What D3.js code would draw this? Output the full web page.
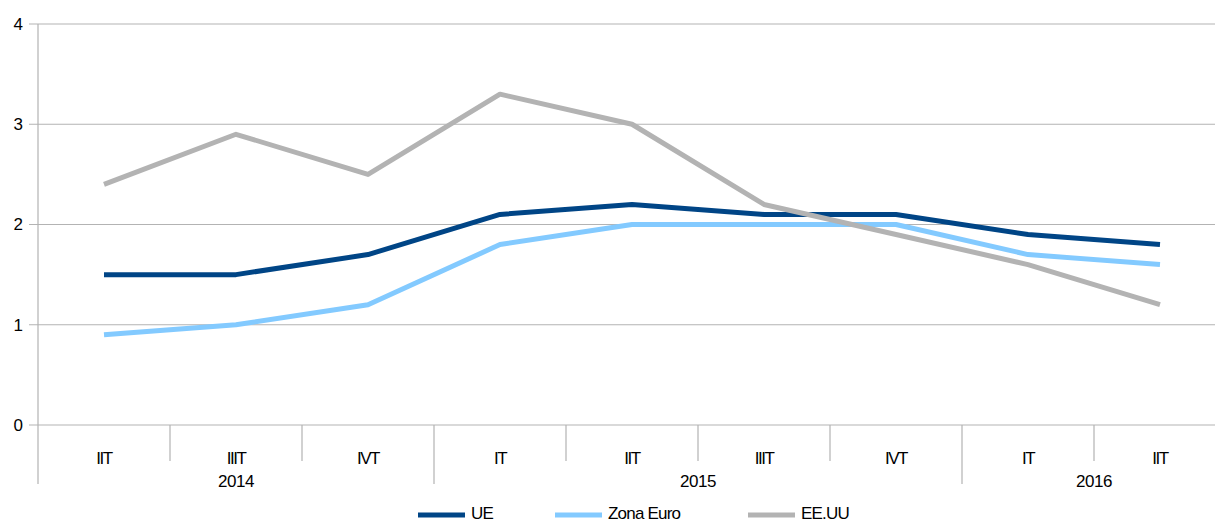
<!DOCTYPE html>
<html><head><meta charset="utf-8">
<script src="https://cdn.jsdelivr.net/npm/d3@7"></script>
<style>
body{margin:0;background:#fff;}
svg{display:block;font-family:"Liberation Sans",Arial,sans-serif;}
</style></head>
<body>
<svg id="chart" width="1215" height="524"></svg>
<script>
const quarters = ["IIT","IIIT","IVT","IT","IIT","IIIT","IVT","IT","IIT"];
const years = ["2014","2015","2016"];
const yearSpans = [3,4,2];
const yTicks = [0,1,2,3,4];
const seriesNames = ["UE","Zona Euro","EE.UU"];
const ue = [1.5,1.5,1.7,2.1,2.2,2.1,2.1,1.9,1.8];
const zonaEuro = [0.9,1.0,1.2,1.8,2.0,2.0,2.0,1.7,1.6];
const eeuu = [2.4,2.9,2.5,3.3,3.0,2.2,1.9,1.6,1.2];
const colors = ["#004586","#83caff","#b3b3b3"];

(function(){
const svg = d3.select("#chart");
const pLeft = 38, pTop = 24, pBottom = 425, pRight = 1226;
const idx = d3.range(quarters.length);
const x = d3.scaleBand().domain(idx).range([pLeft,pRight]).padding(0);
const y = d3.scaleLinear().domain([0,4]).range([pBottom,pTop]);

const g = svg.append("g");
g.selectAll("line.grid").data(yTicks).enter().append("line")
  .attr("x1",29).attr("x2",1215)
  .attr("y1",d=>y(d)).attr("y2",d=>y(d))
  .attr("stroke","#b3b3b3").attr("stroke-width",1.2);
g.selectAll("text.yl").data(yTicks).enter().append("text")
  .attr("x",23).attr("y",d=>y(d)).attr("dy","0.35em")
  .attr("text-anchor","end").attr("font-size",17).attr("fill","#000")
  .text(d=>d);
g.append("line").attr("x1",pLeft).attr("x2",pLeft).attr("y1",pTop).attr("y2",484)
  .attr("stroke","#b3b3b3").attr("stroke-width",1.2);

const yearStarts = [];
let acc=0; yearSpans.forEach(s=>{yearStarts.push(acc); acc+=s;});
idx.slice(1).forEach(i=>{
  const isYear = yearStarts.includes(i);
  g.append("line").attr("x1",x(i)).attr("x2",x(i)).attr("y1",pBottom)
   .attr("y2",isYear?484:461).attr("stroke","#b3b3b3").attr("stroke-width",1.2);
});
g.selectAll("text.q").data(idx).enter().append("text")
  .attr("x",i=>x(i)+x.bandwidth()/2).attr("y",458).attr("dy","0.35em")
  .attr("text-anchor","middle").attr("font-size",17).attr("letter-spacing","-1.5")
  .text(i=>quarters[i]);
years.forEach((yr,k)=>{
  const s=yearStarts[k], e=s+yearSpans[k];
  const cx=(x(s)+(e<quarters.length?x(e):pRight))/2;
  g.append("text").attr("x",cx).attr("y",481).attr("dy","0.35em")
   .attr("text-anchor","middle").attr("font-size",17).attr("letter-spacing","-0.5").text(yr);
});

const data = [ue,zonaEuro,eeuu];
const line = d3.line().x((d,i)=>x(i)+x.bandwidth()/2).y(d=>y(d));
data.forEach((vals,k)=>{
  svg.append("path").datum(vals).attr("d",line).attr("fill","none")
    .attr("stroke",colors[k]).attr("stroke-width",5).attr("stroke-linejoin","round");
});

const legX = [418,555,748];
seriesNames.forEach((n,k)=>{
  svg.append("line").attr("x1",legX[k]).attr("x2",legX[k]+47).attr("y1",515).attr("y2",515)
    .attr("stroke",colors[k]).attr("stroke-width",5);
  svg.append("text").attr("x",legX[k]+53).attr("y",513).attr("dy","0.35em")
    .attr("font-size",17).attr("letter-spacing","-0.8").text(n);
});
})();
</script>
</body></html>
